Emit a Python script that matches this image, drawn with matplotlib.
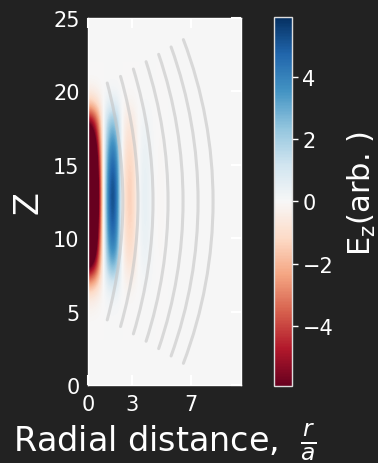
import numpy as np
import matplotlib
matplotlib.use("Agg")
import matplotlib.pyplot as plt
from matplotlib.patches import Arc

# ---------------- data ----------------
# Radial profile of E_z through the pulse centre (arb.), sampled every r_step in r/a
r_step = 0.25
radial_profile = [-13.0, -12.0, -9.5, -5.5, -0.7, 3.0, 5.1, 5.4, 3.8, 0.3,
                  -1.0, -1.45, -1.3, -0.5, 0.2, 0.5, 0.45, 0.2, 0.0, -0.08,
                  -0.08, 0.0]
# Axial envelope sampled at integer Z
z_samples = list(range(0, 26))
axial_envelope = [0.0, 0.0, 0.0, 0.0, 0.0, 0.01, 0.05, 0.2, 0.47, 0.68,
                  0.82, 0.92, 0.98, 1.0, 0.96, 0.88, 0.76, 0.6, 0.42, 0.15,
                  0.03, 0.0, 0.0, 0.0, 0.0, 0.0]
color_limit = 5.92

# Grey wavefront arcs
arc_vertex_r = [2.37, 3.40, 4.42, 5.44, 6.46, 7.48, 8.50]
arc_half_span = [8.05, 8.5, 9.0, 9.5, 10.0, 10.5, 11.0]
arc_radius = 31.0
arc_center_z = 12.5

x_ticks = [0, 3, 7]
y_ticks = [0, 5, 10, 15, 20, 25]
cbar_ticks = [-4, -2, 0, 2, 4]
x_limits = (0, 10.4)
y_limits = (0, 25)

# ---------------- figure ----------------
bg = "#222222"
fig = plt.figure(figsize=(3.78, 4.64), dpi=100, facecolor=bg)
ax = fig.add_axes([0.2328, 0.166, 0.4048, 0.7953])
ax.set_facecolor("#f6f6f6")

field = np.outer(np.array(axial_envelope), np.array(radial_profile))
r_max = r_step * (len(radial_profile) - 1)
im = ax.imshow(field, origin="lower", cmap="RdBu",
               vmin=-color_limit, vmax=color_limit,
               extent=(-r_step / 2, r_max + r_step / 2,
                       z_samples[0] - 0.5, z_samples[-1] + 0.5),
               interpolation="bicubic", interpolation_stage="data",
               aspect="equal", zorder=1)

for v, h in zip(arc_vertex_r, arc_half_span):
    theta = np.degrees(np.arcsin(h / arc_radius))
    ax.add_patch(Arc((v - arc_radius, arc_center_z), 2 * arc_radius, 2 * arc_radius,
                     theta1=-theta, theta2=theta, color="#c4c4c4", alpha=0.6,
                     lw=2.2, capstyle="round", zorder=2))

ax.set_xlim(*x_limits)
ax.set_ylim(*y_limits)
ax.set_xticks(x_ticks)
ax.set_yticks(y_ticks)
ax.tick_params(direction="in", length=7, width=1.5, colors="white",
               top=True, right=True, left=False, labelsize=15, pad=6)
for s in ax.spines.values():
    s.set_color("white")
    s.set_linewidth(1.0)

ax.set_xlabel(r"Radial distance,  $\frac{r}{a}$", color="white", fontsize=24,
              labelpad=5)
ax.set_ylabel("Z", color="white", fontsize=24, labelpad=6)

cax = fig.add_axes([0.7249, 0.166, 0.0476, 0.7953])
cb = fig.colorbar(im, cax=cax, ticks=cbar_ticks)
cb.outline.set_edgecolor("#dddddd")
cb.outline.set_linewidth(1.0)
cb.ax.tick_params(colors="white", labelsize=15, length=4, width=1)
cb.set_label(r"E$_\mathrm{z}$(arb. )", color="white", fontsize=22, labelpad=9)
cb.ax.yaxis.label.set_y(0.525)

fig.savefig("out.png", dpi=100, facecolor=bg)
